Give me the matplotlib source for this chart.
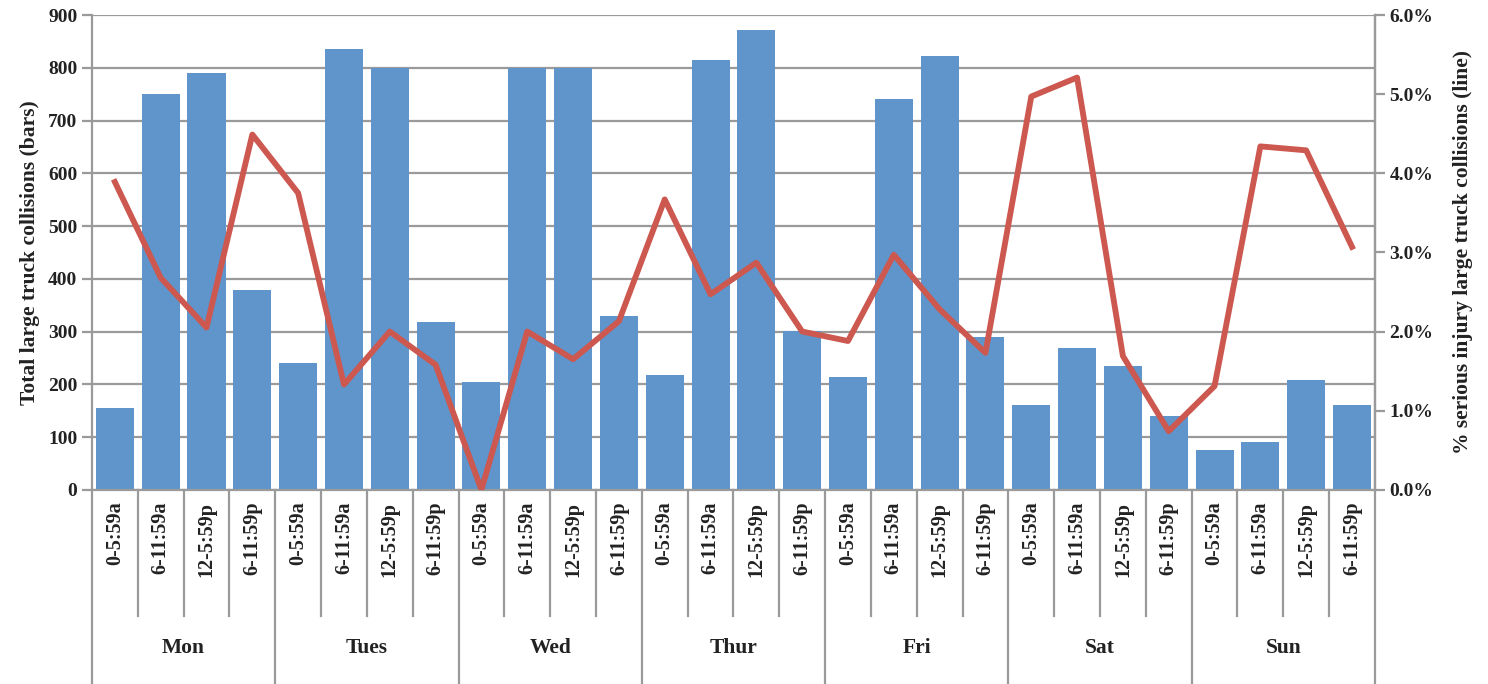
import numpy as np
import matplotlib.pyplot as plt
from matplotlib.ticker import FuncFormatter

# data
days = ["Mon", "Tues", "Wed", "Thur", "Fri", "Sat", "Sun"]
periods = ["0-5:59a", "6-11:59a", "12-5:59p", "6-11:59p"]
collisions = [155, 751, 791, 378,
              240, 835, 800, 318,
              204, 800, 799, 330,
              217, 815, 872, 301,
              214, 741, 823, 290,
              160, 268, 234, 139,
              76, 91, 209, 161]
serious_pct = [3.89, 2.68, 2.05, 4.49,
               3.75, 1.33, 2.00, 1.58,
               0.00, 2.00, 1.65, 2.13,
               3.67, 2.47, 2.87, 2.00,
               1.88, 2.97, 2.28, 1.73,
               4.97, 5.21, 1.69, 0.74,
               1.31, 4.34, 4.29, 3.07]

plt.rcParams['font.family'] = ['Liberation Serif', 'DejaVu Serif']
plt.rcParams['font.weight'] = 'bold'

grey = '#9a9a9a'
txt = '#222222'
bar_col = '#5f95cb'
line_col = '#cc5850'

fig = plt.figure(figsize=(14.88, 6.84), dpi=100)
ax = fig.add_axes([0.0618, 0.284, 0.8622, 0.694])

x = np.arange(len(collisions))
ax.bar(x, collisions, width=0.83, color=bar_col, zorder=2)
ax.set_xlim(-0.5, len(x) - 0.5)
ax.set_ylim(0, 900)
ax.set_yticks(range(0, 901, 100))
ax.yaxis.grid(True, color=grey, linewidth=1.6, zorder=0)
ax.set_axisbelow(True)
ax.set_xticks([])
ax.spines['top'].set_visible(False)
for s in ['left', 'right', 'bottom']:
    ax.spines[s].set_color(grey)
    ax.spines[s].set_linewidth(1.6)
ax.tick_params(axis='y', colors=grey, length=7, width=1.6, labelsize=14,
               labelcolor=txt)
ax.set_ylabel("Total large truck collisions (bars)", fontsize=15.5,
              fontweight='bold', color=txt, labelpad=6)

ax2 = ax.twinx()
ax2.plot(x, serious_pct, color=line_col, linewidth=4.2, zorder=3)
ax2.set_ylim(0, 6)
ax2.set_yticks(range(0, 7))
ax2.yaxis.set_major_formatter(FuncFormatter(lambda v, p: f"{v:.1f}%"))
for s in ['top', 'left', 'bottom']:
    ax2.spines[s].set_visible(False)
ax2.spines['right'].set_color(grey)
ax2.spines['right'].set_linewidth(1.6)
ax2.tick_params(axis='y', colors=grey, length=7, width=1.6, labelsize=14,
                labelcolor=txt)
ax2.set_ylabel("% serious injury large truck collisions (line)", fontsize=15.5,
               fontweight='bold', color=txt, labelpad=14)

# two-level category axis drawn under the plot
trans = ax.get_xaxis_transform()
for i in range(len(x)):
    ax.text(x[i], -0.025, periods[i % 4], transform=trans, rotation=90,
            ha='center', va='top', fontsize=14.5, fontweight='bold',
            color=txt)
for i in range(len(x) + 1):
    xb = i - 0.5
    y_end = -0.408 if i % 4 == 0 else -0.267
    ax.plot([xb, xb], [0, y_end], transform=trans, color=grey,
            linewidth=1.6, clip_on=False)
for d, day in enumerate(days):
    ax.text(d * 4 + 1.5, -0.333, day, transform=trans, ha='center',
            va='center', fontsize=15.5, fontweight='bold', color=txt)

fig.savefig("out.png", dpi=100)
